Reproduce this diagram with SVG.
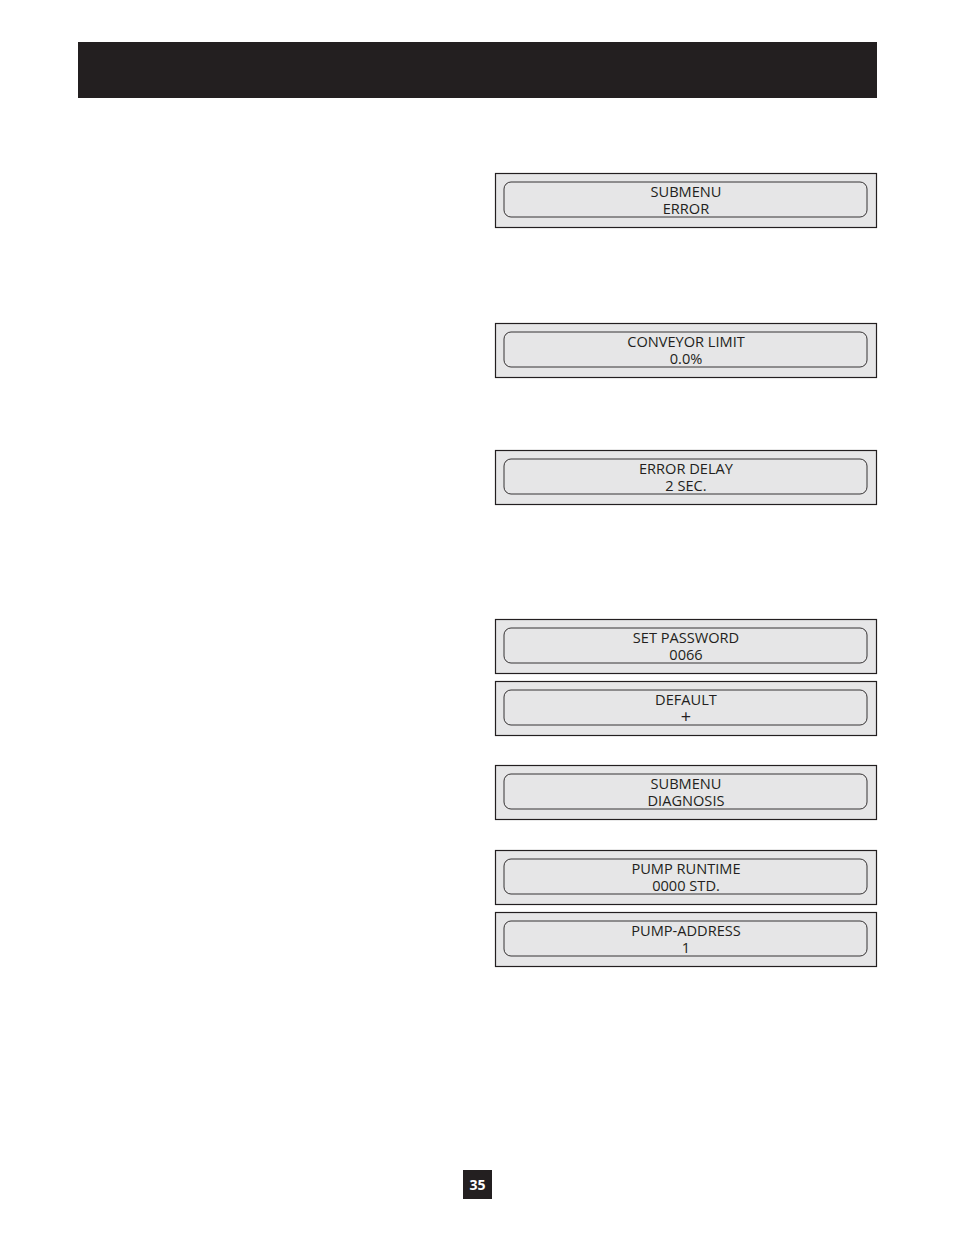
<svg xmlns="http://www.w3.org/2000/svg" width="954" height="1235" viewBox="0 0 954 1235">
<style>
.outer{fill:#e6e6e7;stroke:#231f20;stroke-width:1.2}
.inner{fill:#e6e6e7;stroke:#231f20;stroke-width:0.9}
.t{font-family:"Open Sans","Noto Sans","Liberation Sans",sans-serif;font-size:14.6px;fill:#231f20;text-anchor:middle}
</style>
<rect width="954" height="1235" fill="#ffffff"/>
<rect id="header" x="78" y="42" width="799" height="56" fill="#231f20"/>
<g id="n1"><rect class="outer" x="495.5" y="173.5" width="381" height="54"/><rect class="inner" x="504" y="182" width="363" height="35" rx="7"/><text class="t" x="686" y="197">SUBMENU</text><text class="t" x="686" y="214">ERROR</text></g>
<g id="n2"><rect class="outer" x="495.5" y="323.5" width="381" height="54"/><rect class="inner" x="504" y="332" width="363" height="35" rx="7"/><text class="t" x="686" y="347">CONVEYOR LIMIT</text><text class="t" x="686" y="364">0.0%</text></g>
<g id="n3"><rect class="outer" x="495.5" y="450.5" width="381" height="54"/><rect class="inner" x="504" y="459" width="363" height="35" rx="7"/><text class="t" x="686" y="474">ERROR DELAY</text><text class="t" x="686" y="491">2 SEC.</text></g>
<g id="n4"><rect class="outer" x="495.5" y="619.5" width="381" height="54"/><rect class="inner" x="504" y="628" width="363" height="35" rx="7"/><text class="t" x="686" y="643">SET PASSWORD</text><text class="t" x="686" y="660">0066</text></g>
<g id="n5"><rect class="outer" x="495.5" y="681.5" width="381" height="54"/><rect class="inner" x="504" y="690" width="363" height="35" rx="7"/><text class="t" x="686" y="705">DEFAULT</text><text class="t" x="686" y="723" style="font-size:18px">+</text></g>
<g id="n6"><rect class="outer" x="495.5" y="765.5" width="381" height="54"/><rect class="inner" x="504" y="774" width="363" height="35" rx="7"/><text class="t" x="686" y="789">SUBMENU</text><text class="t" x="686" y="806">DIAGNOSIS</text></g>
<g id="n7"><rect class="outer" x="495.5" y="850.5" width="381" height="54"/><rect class="inner" x="504" y="859" width="363" height="35" rx="7"/><text class="t" x="686" y="874">PUMP RUNTIME</text><text class="t" x="686" y="891">0000 STD.</text></g>
<g id="n8"><rect class="outer" x="495.5" y="912.5" width="381" height="54"/><rect class="inner" x="504" y="921" width="363" height="35" rx="7"/><text class="t" x="686" y="936">PUMP-ADDRESS</text><text class="t" x="686" y="953">1</text></g>
<g id="connectors"></g>
<g id="page"><rect x="463" y="1170" width="29" height="29" fill="#231f20"/><text x="477.5" y="1190" font-family="'Open Sans','Noto Sans',sans-serif" font-weight="bold" font-size="14" fill="#ffffff" text-anchor="middle">35</text></g>
</svg>
